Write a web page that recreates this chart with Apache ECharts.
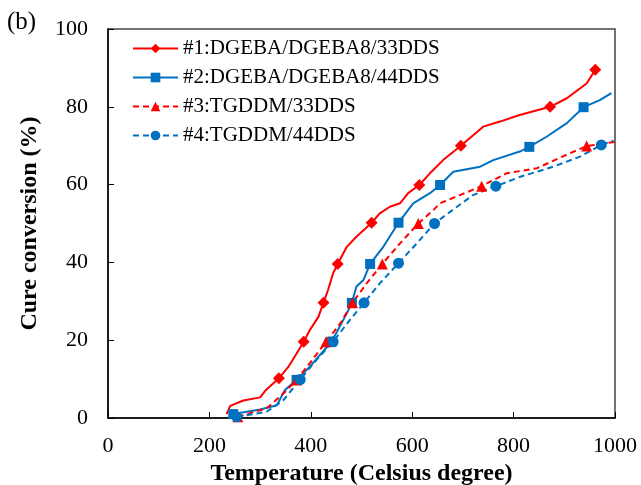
<!DOCTYPE html>
<html>
<head>
    <meta charset="utf-8">
    <title>Cure conversion</title>
    <script src="https://cdn.jsdelivr.net/npm/echarts@6/dist/echarts.min.js"></script>
</head>
<body style="margin:0">
    <div id="main" style="width:641px;height:485px;"></div>
    <script type="text/javascript">

    // ----- data
    var names = ['#1:DGEBA/DGEBA8/33DDS', '#2:DGEBA/DGEBA8/44DDS', '#3:TGDDM/33DDS', '#4:TGDDM/44DDS'];

    var t1 = [234, 241, 267, 300, 310, 337, 356, 372, 386, 398, 415, 425, 434, 444, 453, 471, 490, 520, 536, 556, 576, 592, 614, 635, 661, 696, 740, 773, 812, 872, 905, 944, 961];
    var c1 = [1.0, 3.1, 4.5, 5.3, 7.0, 10.2, 13.2, 16.6, 19.6, 22.6, 26.0, 29.6, 32.9, 37.2, 39.6, 44.0, 46.6, 50.2, 52.6, 54.3, 55.2, 57.8, 59.9, 62.9, 66.3, 70, 74.9, 76.2, 77.9, 80, 82.2, 86, 89.5];
    var mk1 = [5, 8, 11, 14, 17, 22, 25, 29, 32];

    var t2 = [240, 247, 300, 333, 349, 372, 398, 441, 471, 481, 490, 504, 517, 543, 573, 602, 635, 655, 681, 734, 760, 812, 831, 865, 905, 938, 970, 993];
    var c2 = [0.5, 1.0, 2.2, 3.3, 7.2, 9.8, 13.2, 19.6, 26.9, 29.6, 33.8, 35.5, 39.6, 44.0, 50.2, 55.2, 57.8, 59.9, 63.3, 64.6, 66.3, 68.5, 69.7, 72.3, 75.8, 79.9, 81.7, 83.5];
    var mk2 = [1, 5, 7, 9, 12, 14, 17, 22, 25];

    var t3 = [256, 313, 346, 372, 398, 430, 458, 482, 510, 541, 576, 612, 642, 655, 694, 737, 786, 846, 896, 944, 1000];
    var c3 = [0.3, 2.5, 6.3, 9.8, 14.1, 19.6, 24.3, 29.6, 34.6, 39.6, 44.9, 50.0, 53.5, 55.2, 57.3, 59.6, 62.9, 64.2, 67.2, 69.9, 71];
    var mk3 = [0, 3, 5, 7, 9, 11, 15, 19];

    var t4 = [254, 313, 346, 379, 411, 444, 477, 505, 536, 573, 609, 644, 680, 720, 765, 813, 878, 931, 973, 997];
    var c4 = [0.3, 1.6, 4.6, 9.9, 14.9, 19.6, 25.2, 29.6, 34.6, 39.8, 44.9, 50.0, 53.5, 57.3, 59.6, 62.0, 64.6, 67.2, 70.2, 71.3];
    var mk4 = [0, 3, 5, 7, 9, 11, 14, 18];

    var RED = '#ff0000';
    var BLUE = '#0070c0';
    var serif = 'Liberation Serif';

    // 只在标记点上画符号
    function build(t, c, mk) {
        return t.map(function (x, i) {
            var item = { value: [x, c[i]] };
            if (mk.indexOf(i) < 0) item.symbol = 'none';
            return item;
        });
    }

    function line(name, t, c, mk, color, dashed, symbol, size) {
        return {
            name: name,
            type: 'line',
            data: build(t, c, mk),
            symbol: symbol,
            symbolSize: size,
            showAllSymbol: true,
            color: color,
            lineStyle: { color: color, width: 2, type: dashed ? [6, 4] : 'solid' },
            itemStyle: { color: color },
            animation: false
        };
    }

    var myChart = echarts.init(document.getElementById('main'));

    var option = {
        backgroundColor: '#fff',
        graphic: [{
            type: 'text', left: 7, top: 10,
            style: { text: '(b)', font: '25px "Liberation Serif"', fill: '#000' }
        }],
        grid: {
            left: 108, right: 26, top: 29, bottom: 67,
            outerBoundsMode: 'none',
            show: true, borderColor: '#444', borderWidth: 1.5, backgroundColor: 'transparent'
        },
        legend: {
            orient: 'vertical',
            left: 127, top: 33,
            itemWidth: 45, itemHeight: 12, itemGap: 8,
            textStyle: { fontFamily: serif, fontSize: 21, color: '#000' },
            data: names
        },
        xAxis: {
            type: 'value', min: 0, max: 1000, interval: 200,
            name: 'Temperature (Celsius degree)',
            nameLocation: 'middle', nameGap: 37,
            nameTextStyle: { fontFamily: serif, fontSize: 24, fontWeight: 'bold', color: '#000' },
            axisLine: { lineStyle: { color: '#000', width: 1.5 } },
            axisTick: { inside: true, length: 6, lineStyle: { color: '#000' } },
            axisLabel: {
                fontFamily: serif, fontSize: 22, color: '#000', margin: 17,
                formatter: function (v) { return String(v); }
            },
            splitLine: { show: false }
        },
        yAxis: {
            type: 'value', min: 0, max: 100, interval: 20,
            name: 'Cure conversion (%)',
            nameLocation: 'middle', nameGap: 66,
            nameTextStyle: { fontFamily: serif, fontSize: 24, fontWeight: 'bold', color: '#000' },
            axisLine: { show: true, lineStyle: { color: '#000', width: 1.5 } },
            axisTick: { show: true, inside: true, length: 6, lineStyle: { color: '#000' } },
            axisLabel: { fontFamily: serif, fontSize: 22, color: '#000', margin: 20 },
            splitLine: { show: false }
        },
        series: [
            line(names[0], t1, c1, mk1, RED, false, 'diamond', 12),
            line(names[1], t2, c2, mk2, BLUE, false, 'rect', 10),
            line(names[2], t3, c3, mk3, RED, true, 'triangle', 11),
            line(names[3], t4, c4, mk4, BLUE, true, 'circle', 11)
        ]
    };

    myChart.setOption(option);
    </script>
</body>
</html>
